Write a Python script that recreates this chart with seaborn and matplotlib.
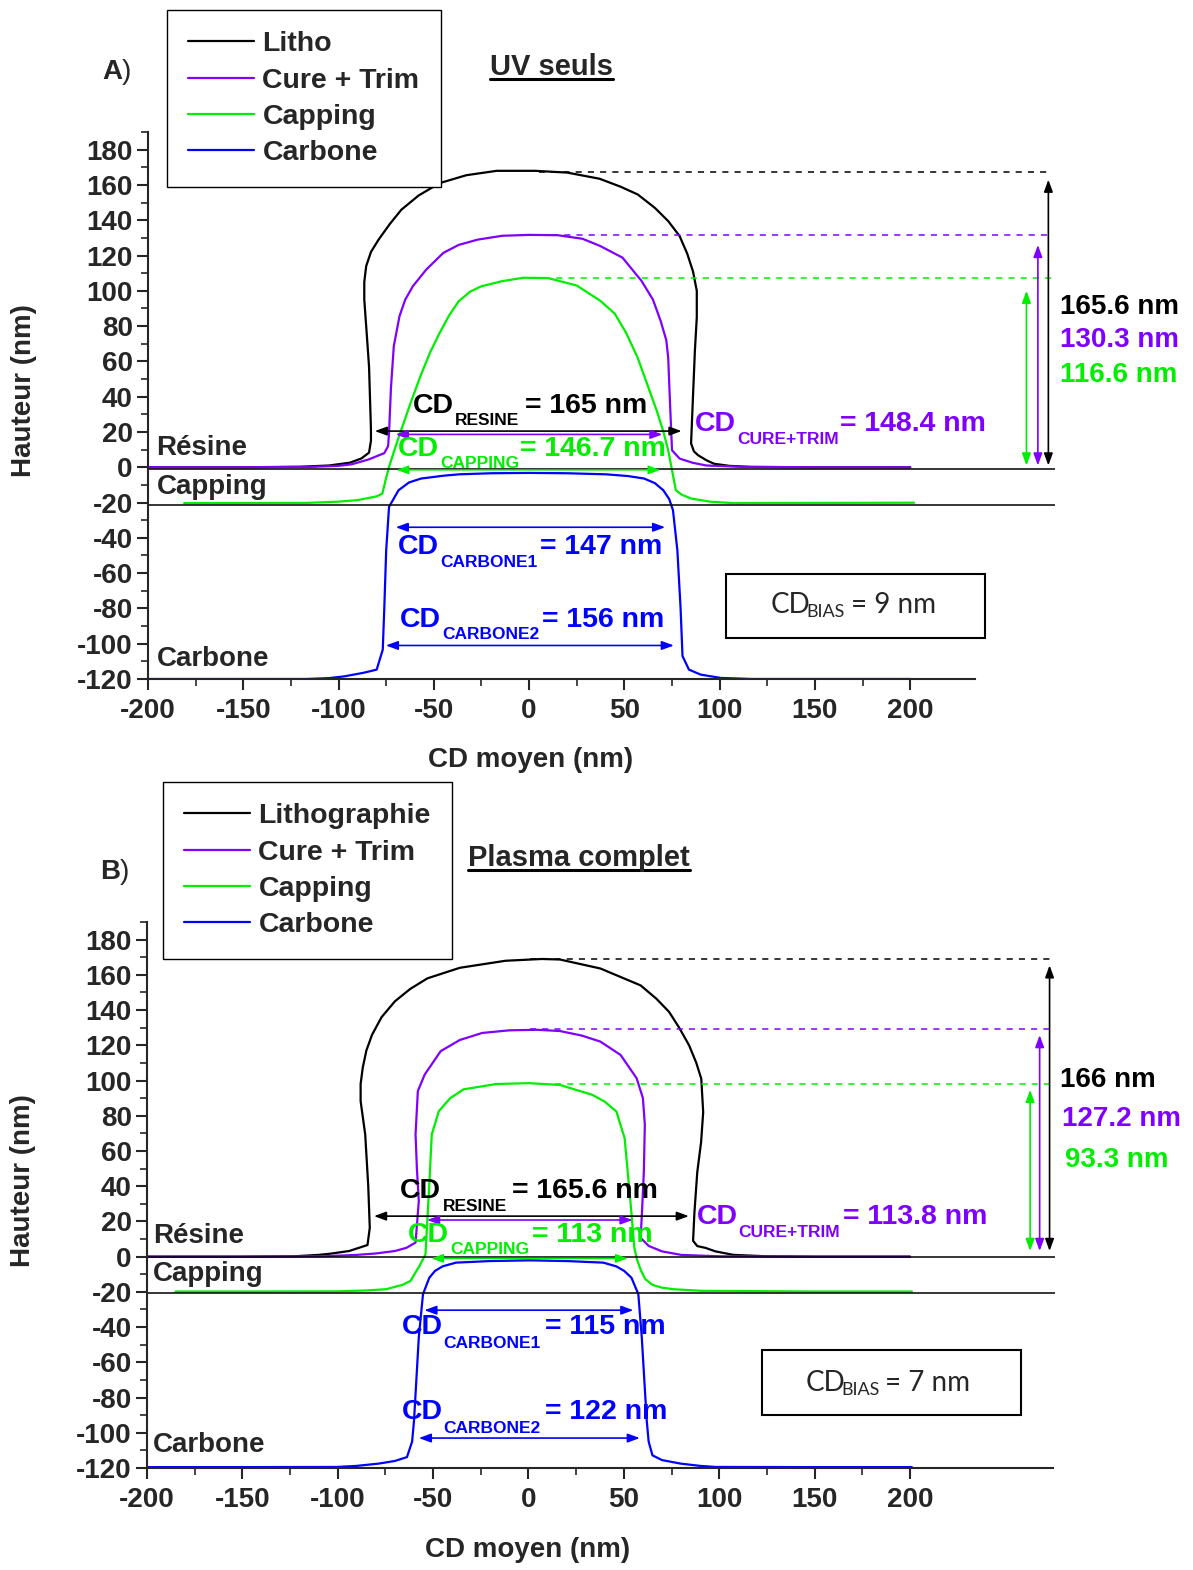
import matplotlib
matplotlib.use('Agg')
import matplotlib.pyplot as plt
from matplotlib.lines import Line2D
from matplotlib.patches import Rectangle
import seaborn as sns

W, H = 1193, 1570

BLACK = 'black'
PURPLE = '#8000ff'
GREEN = '#00ee00'
BLUE = '#0000ff'

# ---------------- panel A : UV seuls ----------------
litho_a_x = [-200, -150, -120, -105, -94, -88, -84, -83, -83, -84, -85.5, -86.5, -86.5, -85.5, -83, -79, -73,
             -67, -58, -47, -33, -17, 3, 20, 37, 48, 57, 66, 73, 79, 83, 86, 88, 88, 87, 86, 85, 86.5,
             88.7, 93, 97, 105, 116.5, 150, 200]
litho_a_y = [0, 0, 0.3, 1, 2.6, 5, 8.3, 15, 21.5, 57, 80, 95, 105, 114, 122, 129, 138,
             146, 154, 161, 165.5, 168, 168, 167, 163.5, 159, 154.6, 147, 139.5, 131, 121, 111, 100, 85, 66, 40, 13.5, 9,
             6.8, 4, 2, 0.8, 0.2, 0, 0]
cure_a_x = [-200, -150, -115, -100, -93, -84, -76, -74, -73.5, -72.5, -71, -68, -65, -61, -54, -45, -37, -27, -14,
            0, 15, 28, 37.3, 49, 59, 65, 69, 72, 73, 74, 75, 79, 86, 93, 112.7, 150, 200]
cure_a_y = [0, 0, 0.2, 0.8, 1.7, 4.5, 8, 12, 19.6, 45, 68.7, 85.7, 95, 102.6, 112, 121.5, 126, 129, 131.2,
            131.7, 131.5, 129.5, 125.4, 118.8, 105.6, 95, 83, 72, 62, 35, 9.6, 4.9, 2.5, 1, 0.2, 0, 0]
cap_a_x = [-181, -150, -117, -100, -90, -80, -77, -75.5, -73.5, -70, -67, -62, -57, -52, -47, -42, -37, -31, -25,
           -14, -3, 10, 25, 37.3, 45, 51, 57, 62, 67, 70.5, 73, 75, 77, 80, 85, 95, 106.8, 150, 202]
cap_a_y = [-20.3, -20.3, -20.2, -19.5, -18.6, -16.5, -14.9, -8, 0.2, 12, 21.5, 37, 51.7, 65, 76, 86, 94, 99.5, 102.6,
           105.5, 107.4, 107.2, 103, 94.4, 87, 76, 62, 47, 32, 20, 9.6, -1.7, -13, -15.5, -17.7, -19.5, -20.3, -20.2, -20.1]
carb_a_x = [-200, -150, -117, -105, -97, -87, -80, -76.8, -76, -75, -73.5, -68.5, -63, -56.7, -45, -36.7, -20, 0,
            20, 40.4, 52, 60.4, 66, 70.4, 73.5, 75.5, 77.8, 79.5, 80.5, 83.9, 90, 100.6, 117, 150, 200]
carb_a_y = [-120, -120, -120, -119.5, -118.5, -116.5, -114.7, -103.4, -80, -47, -22.4, -13, -8.6, -6.4, -4.8, -4, -3.4, -3.2,
            -3.4, -4, -5, -6.4, -9, -13, -18, -24.3, -47, -80, -107, -114.7, -117.5, -119.4, -120, -120, -120]
labels_a = ['Litho', 'Cure + Trim', 'Capping', 'Carbone']
heights_a = ['165.6 nm', '130.3 nm', '116.6 nm']
cd_values_a = ['= 165 nm', '= 148.4 nm', '= 146.7 nm', '= 147 nm', '= 156 nm']
bias_a = '= 9 nm'

# ---------------- panel B : Plasma complet ----------------
litho_b_x = [-200, -150, -123, -110, -103.7, -94, -84.4, -83.2, -84, -85.6, -88, -88, -86.9, -85, -82, -77, -70,
             -62, -53, -36, -12, 7, 16.5, 37.7, 50, 58.8, 67, 73.7, 79, 84.2, 88, 90.6, 91.6, 90.5, 88.5, 87,
             86.3, 88.5, 92.7, 98, 107.5, 125, 150, 200]
litho_b_y = [0, 0, 0.2, 1, 1.7, 3.2, 6.6, 16.4, 40, 69.4, 88.3, 98, 107.2, 117, 126, 136, 145,
             152, 158, 164, 168, 169, 168.7, 163.6, 158, 154, 146.5, 139, 130, 120, 110, 101, 82, 65, 48, 25,
             9, 6, 5, 3, 1, 0.2, 0, 0]
cure_b_x = [-200, -150, -108.5, -90, -80, -70, -64, -59.2, -57.5, -58.5, -59.2, -58, -54.4, -46, -36, -24.3, -10,
            4.6, 16.5, 28, 37.7, 48.3, 56.7, 60, 61, 60.5, 59.5, 58.8, 63, 70, 80, 100, 150, 200]
cure_b_y = [0, 0, 0.2, 1, 1.8, 3.2, 5, 8, 31.6, 50, 69.4, 94, 103.4, 116.7, 123, 127, 128.5,
            128.8, 128.1, 125.5, 122.1, 114.5, 101.3, 90, 75, 48.5, 25, 10.7, 6.1, 3, 1, 0.2, 0, 0]
cap_b_x = [-185, -150, -100.5, -85, -74.8, -66, -61.9, -57, -54, -52, -50.7, -47, -41, -34, -17, 0, 16.5, 33.4,
           40, 46.1, 50.4, 53.6, 55.5, 57, 59, 61.3, 65, 69.5, 76, 90.7, 150, 201]
cap_b_y = [-19.8, -19.8, -19.7, -19.2, -18.5, -16, -13.8, -5, 1.3, 41, 69.4, 82.6, 90, 95, 98, 98.5, 97.5, 91.9,
           88, 82.4, 67.3, 29.6, 5, -2, -8, -12.8, -16, -17.5, -18.5, -19.4, -19.8, -19.8]
carb_b_x = [-200, -150, -100.5, -90, -78.5, -70, -63.7, -61, -60, -57.5, -55.3, -52, -49, -45, -38, -20, 0.6,
            20, 39.2, 46, 50.2, 54, 57.6, 59.4, 62, 63, 65, 70, 79.7, 90, 98, 150, 201]
carb_b_y = [-119.5, -119.5, -119.4, -118.8, -117.5, -116, -113.8, -105, -93, -45.8, -21.3, -12, -8.1, -5.5, -3.4, -2.5, -2.1,
            -2.5, -3.4, -5.5, -8.1, -12, -21.3, -45.8, -93, -105, -112.8, -115.5, -117.5, -118.8, -119.4, -119.5, -119.5]
labels_b = ['Lithographie', 'Cure + Trim', 'Capping', 'Carbone']
heights_b = ['166 nm', '127.2 nm', '93.3 nm']
cd_values_b = ['= 165.6 nm', '= 113.8 nm', '= 113 nm', '= 115 nm', '= 122 nm']
bias_b = '= 7 nm'

cd_subs = ['RESINE', 'CURE+TRIM', 'CAPPING', 'CARBONE1', 'CARBONE2']
layer_names = ['Résine', 'Capping', 'Carbone']
colors = [BLACK, PURPLE, GREEN, BLUE]

sns.set_style('ticks')
plt.rcParams['font.family'] = ['Liberation Sans', 'DejaVu Sans']
plt.rcParams['font.weight'] = 'bold'
plt.rcParams['axes.labelweight'] = 'bold'
plt.rcParams['axes.unicode_minus'] = False

fig = plt.figure(figsize=(W / 100, H / 100), dpi=100)
ax_a = fig.add_axes([148 / W, 1 - 679 / H, 827 / W, 547 / H])
ax_b = fig.add_axes([147 / W, 1 - 1468 / H, 906 / W, 546 / H])


def draw_profiles(ax, curves, labels, xmax):
    for (x, y), c, lbl in zip(curves, colors, labels):
        sns.lineplot(x=x, y=y, sort=False, estimator=None, color=c, lw=1.6,
                     label=lbl, ax=ax, legend=False)
    ax.set_xlim(-200, xmax)
    ax.set_ylim(-120, 190)
    ax.set_xticks(range(-200, 201, 50))
    ax.set_xticks(range(-175, 176, 50), minor=True)
    ax.set_yticks(range(-120, 181, 20))
    ax.set_yticks(list(range(-110, 191, 20)), minor=True)
    ax.tick_params(which='major', length=8, width=1.5, labelsize=20)
    ax.tick_params(which='minor', length=5, width=1.2)
    ax.tick_params(axis='x', pad=6)
    ax.tick_params(axis='y', pad=3)
    sns.despine(ax=ax)
    for s in ['left', 'bottom']:
        ax.spines[s].set_linewidth(1.5)
    ax.set_xlabel('CD moyen (nm)', fontsize=20)
    ax.set_ylabel('Hauteur (nm)', fontsize=20)


def arrow(ax, x0, y0, x1, y1, c, lw=1.2):
    ax.annotate('', xy=(x1, y1), xytext=(x0, y0), annotation_clip=False,
                arrowprops=dict(arrowstyle='<|-|>,head_length=0.6,head_width=0.22',
                                color=c, lw=lw, shrinkA=0, shrinkB=0, mutation_scale=12))


def cd_label(ax, xs, ys, sub, rest, c):
    ax.text(xs[0], ys[0], 'CD', color=c, fontsize=20.5, ha='left', va='center')
    ax.text(xs[1], ys[1], sub, color=c, fontsize=12.5, ha='left', va='center')
    ax.text(xs[2], ys[0], rest, color=c, fontsize=20.5, ha='left', va='center')


def bias_box(ax, x0, x1, y0, y1, xs, ys, rest):
    ax.add_patch(Rectangle((x0, y0), x1 - x0, y1 - y0, fill=False, ec='black', lw=1.5, clip_on=False))
    kw = dict(family=['Lato', 'DejaVu Sans'], fontweight='normal', ha='left', va='center')
    ax.text(xs[0], ys[0], 'CD', fontsize=20, **kw)
    ax.text(xs[1], ys[1], 'BIAS', fontsize=13, **kw)
    ax.text(xs[2], ys[0], rest, fontsize=20, **kw)


# ---------------- panel A ----------------
draw_profiles(ax_a, [(litho_a_x, litho_a_y), (cure_a_x, cure_a_y), (cap_a_x, cap_a_y), (carb_a_x, carb_a_y)],
              labels_a, 234)
ax_a.hlines([-1, -21.5], -200, 276, color='black', lw=1.1, clip_on=False)
ax_a.hlines(167.5, 5, 274, color=BLACK, lw=1.1, ls=(0, (4, 4)), clip_on=False)
ax_a.hlines(131.5, 12, 274, color=PURPLE, lw=1.1, ls=(0, (4, 4)), clip_on=False)
ax_a.hlines(107, 8, 274, color=GREEN, lw=1.1, ls=(0, (4, 4)), clip_on=False)
arrow(ax_a, 261, 1, 261, 100, GREEN)
arrow(ax_a, 267, 1, 267, 126, PURPLE)
arrow(ax_a, 272.5, 1, 272.5, 163, BLACK)
for txt, c, y in zip(heights_a, colors, [91, 72.3, 52.5]):
    ax_a.text(278.7, y, txt, color=c, fontsize=20, ha='left', va='center')

arrow(ax_a, -81, 20.5, 80, 20.5, BLACK)
arrow(ax_a, -70, 18.6, 70, 18.6, PURPLE)
arrow(ax_a, -69.5, -1.5, 68.8, -1.5, GREEN, lw=1.0)
arrow(ax_a, -70, -34, 71.4, -34, BLUE)
arrow(ax_a, -75.2, -101, 76, -101, BLUE)
cd_label(ax_a, (-60.9, -38.8, -2.1), (34.5, 26.6), cd_subs[0], cd_values_a[0], BLACK)
cd_label(ax_a, (87.1, 109.2, 163.3), (24.3, 15.8), cd_subs[1], cd_values_a[1], PURPLE)
cd_label(ax_a, (-68.8, -46.7, -4.7), (10.2, 2.3), cd_subs[2], cd_values_a[2], GREEN)
cd_label(ax_a, (-68.8, -46.7, 5.8), (-45.2, -53.7), cd_subs[3], cd_values_a[3], BLUE)
cd_label(ax_a, (-67.7, -45.7, 6.8), (-86.4, -94.9), cd_subs[4], cd_values_a[4], BLUE)
for name, y in zip(layer_names, [10.7, -11.3, -108.5]):
    ax_a.text(-195.5, y, name, fontsize=20, ha='left', va='center')
bias_box(ax_a, 103.4, 239.4, -96.6, -60.5, (126.5, 145.4, 169), (-78, -82), bias_a)
ax_a.xaxis.set_label_coords(0.462, -0.125)
ax_a.yaxis.set_label_coords(-0.134, 0.528)

# ---------------- panel B ----------------
draw_profiles(ax_b, [(litho_b_x, litho_b_y), (cure_b_x, cure_b_y), (cap_b_x, cap_b_y), (carb_b_x, carb_b_y)],
              labels_b, 275)
ax_b.hlines([0, -20.5], -200, 276, color='black', lw=1.1, clip_on=False)
ax_b.hlines(169.2, 1, 274, color=BLACK, lw=1.1, ls=(0, (4, 4)), clip_on=False)
ax_b.hlines(129.2, 1, 274, color=PURPLE, lw=1.1, ls=(0, (4, 4)), clip_on=False)
ax_b.hlines(98, 14, 274, color=GREEN, lw=1.1, ls=(0, (4, 4)), clip_on=False)
arrow(ax_b, 263, 3.2, 263, 94.7, GREEN)
arrow(ax_b, 268, 3.2, 268, 125.8, PURPLE)
arrow(ax_b, 273.2, 3.2, 273.2, 165.4, BLACK)
for txt, c, x, y in zip(heights_b, colors, [278.6, 279.7, 281.3], [100.2, 78.1, 54.9]):
    ax_b.text(x, y, txt, color=c, fontsize=20, ha='left', va='center')

arrow(ax_b, -81, 23, 84.1, 23, BLACK)
arrow(ax_b, -53.2, 20.8, 54.6, 20.8, PURPLE)
arrow(ax_b, -50.9, -1, 52, -1, GREEN, lw=1.0)
arrow(ax_b, -54.6, -30.4, 55, -30.4, BLUE)
arrow(ax_b, -57.5, -103, 58.4, -103, BLUE)
cd_label(ax_b, (-67.4, -44.8, -8.6), (37.4, 28.3), cd_subs[0], cd_values_b[0], BLACK)
cd_label(ax_b, (88.3, 109.8, 164.9), (22.6, 13.6), cd_subs[1], cd_values_b[1], PURPLE)
cd_label(ax_b, (-63.2, -41.2, 1.8), (12.5, 4), cd_subs[2], cd_values_b[2], GREEN)
cd_label(ax_b, (-66.3, -44.8, 8.7), (-40.2, -49.2), cd_subs[3], cd_values_b[3], BLUE)
cd_label(ax_b, (-66.3, -44.8, 8.7), (-88.3, -97.3), cd_subs[4], cd_values_b[4], BLUE)
for name, y in zip(layer_names, [11.9, -9.6, -107]):
    ax_b.text(-197, y, name, fontsize=20, ha='left', va='center')
bias_box(ax_b, 122.4, 258.2, -90, -53.2, (145.5, 164.3, 186.9), (-71.9, -75.8), bias_b)
ax_b.xaxis.set_label_coords(0.4205, -0.127)
ax_b.yaxis.set_label_coords(-0.123, 0.527)

# legends
for ax, left, top in [(ax_a, 167, 10), (ax_b, 163, 782)]:
    handles, lbls = ax.get_legend_handles_labels()
    leg = ax.legend(handles, lbls, loc='upper left', bbox_to_anchor=(left / W, 1 - top / H),
                    bbox_transform=fig.transFigure, fontsize=20.5, frameon=True, fancybox=False,
                    edgecolor='black', framealpha=1, borderaxespad=0, borderpad=0.75,
                    handlelength=2.3, handletextpad=0.3, labelspacing=0.36)
    leg.get_frame().set_linewidth(1.0)

# panel letters and titles
fig.text(102 / W, 1 - 72 / H, 'A', fontsize=20, ha='left', va='center')
fig.text(122 / W, 1 - 72 / H, ')', fontsize=20, fontweight='normal', ha='left', va='center')
fig.text(100 / W, 1 - 872 / H, 'B', fontsize=20, ha='left', va='center')
fig.text(120 / W, 1 - 872 / H, ')', fontsize=20, fontweight='normal', ha='left', va='center')
titles = [fig.text(490 / W, 1 - 67 / H, 'UV seuls', fontsize=21, ha='left', va='center'),
          fig.text(468 / W, 1 - 858 / H, 'Plasma complet', fontsize=21, ha='left', va='center')]

fig.canvas.draw()
inv = fig.transFigure.inverted()
for t in titles:
    bb = t.get_window_extent()
    (x0, y0), (x1, _) = inv.transform([(bb.x0, bb.y0 + 2), (bb.x1, bb.y0 + 2)])
    fig.add_artist(Line2D([x0, x1], [y0, y0], color='black', lw=2.2, transform=fig.transFigure))

fig.savefig('out.png', dpi=100)
